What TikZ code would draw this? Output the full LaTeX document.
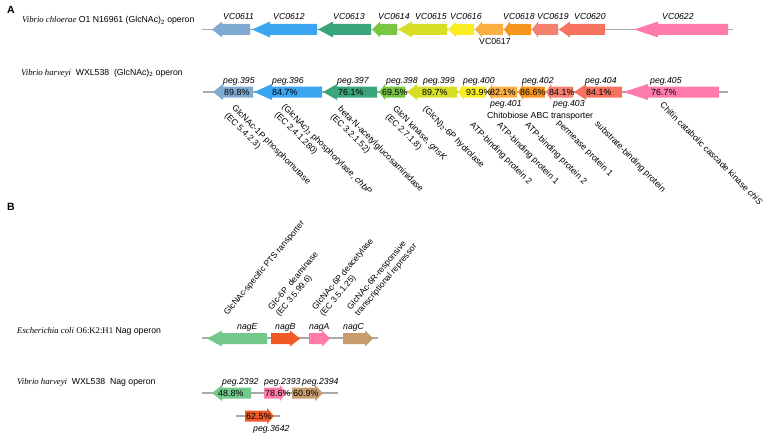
\documentclass[tikz,border=0pt]{standalone}
\usepackage{fontspec}
\setmainfont{Liberation Serif}
\setsansfont{Liberation Sans}
\definecolor{cA}{HTML}{7FAAD2}
\definecolor{cB}{HTML}{3AA6F2}
\definecolor{cC}{HTML}{3AA57A}
\definecolor{cD}{HTML}{78C643}
\definecolor{cE}{HTML}{D6DF26}
\definecolor{cF}{HTML}{FAEE23}
\definecolor{cG}{HTML}{FBAE42}
\definecolor{cH}{HTML}{F7941E}
\definecolor{cI}{HTML}{F6806F}
\definecolor{cJ}{HTML}{F6735F}
\definecolor{cK}{HTML}{FF7BAC}
\definecolor{nE}{HTML}{72C98B}
\definecolor{nB}{HTML}{F15A24}
\definecolor{nC}{HTML}{C69C6D}
\definecolor{bb}{HTML}{AAAAAA}
\newcommand\gl[5]{\fill[#5] (#1,#4) -- (#2,#4-8) -- (#2,#4-5.5) -- (#3,#4-5.5) -- (#3,#4+5.5) -- (#2,#4+5.5) -- (#2,#4+8) -- cycle;}
\newcommand\gr[5]{\fill[#5] (#1,#4-5.5) -- (#2,#4-5.5) -- (#2,#4-8) -- (#3,#4) -- (#2,#4+8) -- (#2,#4+5.5) -- (#1,#4+5.5) -- cycle;}
\tikzset{
  lab/.style={inner sep=0pt, font=\sffamily\fontsize{8.7}{10.3}\selectfont},
  glab/.style={lab, font=\sffamily\itshape\fontsize{8.7}{10.3}\selectfont, anchor=base west},
  pct/.style={lab, font=\sffamily\fontsize{8.9}{10.3}\selectfont, anchor=west},
  ttl/.style={lab, anchor=base west},
  rdn/.style={lab, rotate=-45, anchor=north west, align=left},
  rup/.style={lab, font=\sffamily\fontsize{8.5}{10}\selectfont, rotate=50, anchor=south west, align=left},
  back/.style={draw=bb, line width=1.6pt},
}
\begin{document}
\begin{tikzpicture}[x=1pt,y=-1pt]
\useasboundingbox (0,0) rectangle (767,436);
% Panel letters
\node[ttl, font=\sffamily\bfseries\fontsize{10.5}{12}\selectfont] (A) at (7,14) {A};
\node[ttl, font=\sffamily\bfseries\fontsize{10.5}{12}\selectfont] (B) at (7,210) {B};
% Row 1
\node[ttl] (t1) at (22,23) {{\rmfamily\itshape Vibrio chloerae} O1 N16961 (GlcNAc)\textsubscript{2} operon};
\draw[back] (202,29.5) -- (733,29.5);
\gl{212}{222}{250}{29.5}{cA}
\gl{252}{270}{317}{29.5}{cB}
\gl{318}{333}{371}{29.5}{cC}
\gl{372}{380}{397}{29.5}{cD}
\gl{398}{412}{447}{29.5}{cE}
\gl{448}{456}{474}{29.5}{cF}
\gl{475}{482}{503}{29.5}{cG}
\gl{504}{510}{531}{29.5}{cH}
\gl{532}{538}{558}{29.5}{cI}
\gl{559}{570}{605}{29.5}{cJ}
\gl{634}{658}{728}{29.5}{cK}
\node[glab] (v611) at (223,20) {VC0611};
\node[glab] (v612) at (273,20) {VC0612};
\node[glab] (v613) at (333,20) {VC0613};
\node[glab] (v614) at (378,20) {VC0614};
\node[glab] (v615) at (415,20) {VC0615};
\node[glab] (v616) at (450,20) {VC0616};
\node[lab, anchor=base west] (v617) at (479,45) {VC0617};
\node[glab] (v618) at (503,20) {VC0618};
\node[glab] (v619) at (537,20) {VC0619};
\node[glab] (v620) at (574,20) {VC0620};
\node[glab] (v622) at (662,20) {VC0622};
% Row 2
\node[ttl] (t2) at (21,75) {{\rmfamily\itshape Vibrio harveyi}\ \ WXL538\ \ (GlcNAc)\textsubscript{2} operon};
\draw[back] (203,92) -- (728,92);
\gl{213}{223}{253}{92}{cA}
\gl{254}{272}{322}{92}{cB}
\gl{323}{337}{377}{92}{cC}
\gl{379}{385}{405}{92}{cD}
\gl{407}{417}{457}{92}{cE}
\gl{458}{464}{486}{92}{cF}
\gl{487}{492}{517}{92}{cG}
\gl{518}{523}{545}{92}{cH}
\gl{546}{551}{573}{92}{cI}
\gl{574}{586}{622}{92}{cJ}
\gl{623}{648}{719}{92}{cK}
\node[pct] (p395) at (224,92) {89.8\%};
\node[pct] (p396) at (272,92) {84.7\%};
\node[pct] (p397) at (338,92) {76.1\%};
\node[pct] (p398) at (382,92) {69.5\%};
\node[pct] (p399) at (422,92) {89.7\%};
\node[pct] (p400) at (466,92) {93.9\%};
\node[pct] (p401) at (490,92) {82.1\%};
\node[pct] (p402) at (520,92) {86.6\%};
\node[pct] (p403) at (549,92) {84.1\%};
\node[pct] (p404) at (586,92) {84.1\%};
\node[pct] (p405) at (651,92) {76.7\%};
\node[glab] (g395) at (223,83) {peg.395};
\node[glab] (g396) at (272,83) {peg.396};
\node[glab] (g397) at (337,83) {peg.397};
\node[glab] (g398) at (386,83) {peg.398};
\node[glab] (g399) at (423,83) {peg.399};
\node[glab] (g400) at (463,83) {peg.400};
\node[glab] (g401) at (490,106) {peg.401};
\node[glab] (g402) at (522,83) {peg.402};
\node[glab] (g403) at (553,106) {peg.403};
\node[glab] (g404) at (585,83) {peg.404};
\node[glab] (g405) at (650,83) {peg.405};
\node[ttl] (chb) at (487,118) {Chitobiose ABC transporter};
\node[rdn] (f1) at (236,104) {GlcNAc-1P phosphomutase\\(EC 5.4.2.3)};
\node[rdn] (f2) at (286,103) {(GlcNAc)\textsubscript{2} phosphorylase, \textit{chbP}\\(EC 2.4.1.280)};
\node[rdn] (f3) at (342,105) {beta-N-acetylglucosaminidase\\(EC 3.2.1.52)};
\node[rdn] (f4) at (397,105) {GlcN kinase, \textit{gnsK}\\(EC 2.7.1.8)};
\node[rdn] (f5) at (427,105) {(GlcN)\textsubscript{2}-6P hydrolase};
\node[rdn] (f6) at (474,121) {ATP-binding protein 2};
\node[rdn] (f7) at (501,121) {ATP-binding protein 1};
\node[rdn] (f8) at (529,121) {ATP-binding protein 2};
\node[rdn] (f9) at (561,119) {permease protein 1};
\node[rdn] (f10) at (599,120) {substrate-binding protein};
\node[rdn] (f11) at (664,101) {Chitin catabolic cascade kinase \textit{chiS}};
% Part B, E. coli
\node[ttl] (t3) at (17,333) {{\rmfamily\itshape Escherichia coli} {\rmfamily O6:K2:H1} Nag operon};
\draw[back] (202,338) -- (378,338);
\gl{207}{222}{267}{338.5}{nE}
\gr{271}{290}{300}{338.5}{nB}
\gr{309}{322}{330}{338.5}{cK}
\gr{343}{365}{373}{338.5}{nC}
\node[glab] (nagE) at (237,329) {nagE};
\node[glab] (nagB) at (275,329) {nagB};
\node[glab] (nagA) at (309,329) {nagA};
\node[glab] (nagC) at (343,329) {nagC};
\node[rup] (b1) at (229,317) {GlcNAc-specific PTS ransporter};
\node[rup] (b2) at (281,318) {Glc-6P\ \ deaminase\\(EC 3.5.99.6)};
\node[rup] (b3) at (325,318) {GlcNAc-6P deacetylase\\(EC 3.5.1.25)};
\node[rup] (b4) at (360,318) {GlcNAc-6R-responsive\\transcriptional repressor};
% Part B, V. harveyi
\node[ttl] (t4) at (17,384) {{\rmfamily\itshape Vibrio harveyi}\ \ WXL538\ \ Nag operon};
\draw[back] (202,393) -- (338,393);
\gl{212}{222}{251}{393}{nE}
\gr{264}{280}{286}{393}{cK}
\gr{292}{315}{323}{393}{nC}
\node[pct] (q2392) at (218,393) {48.8\%};
\node[pct] (q2393) at (265,393) {78.6\%};
\node[pct] (q2394) at (293,393) {60.9\%};
\node[glab] (h2392) at (222,384) {peg.2392};
\node[glab] (h2393) at (264,384) {peg.2393};
\node[glab] (h2394) at (302,384) {peg.2394};
\draw[back] (236,416) -- (280,416);
\gr{245}{267}{274}{416}{nB}
\node[pct] (q3642) at (246,416) {62.5\%};
\node[glab] (h3642) at (253,431) {peg.3642};
\end{tikzpicture}
\end{document}
